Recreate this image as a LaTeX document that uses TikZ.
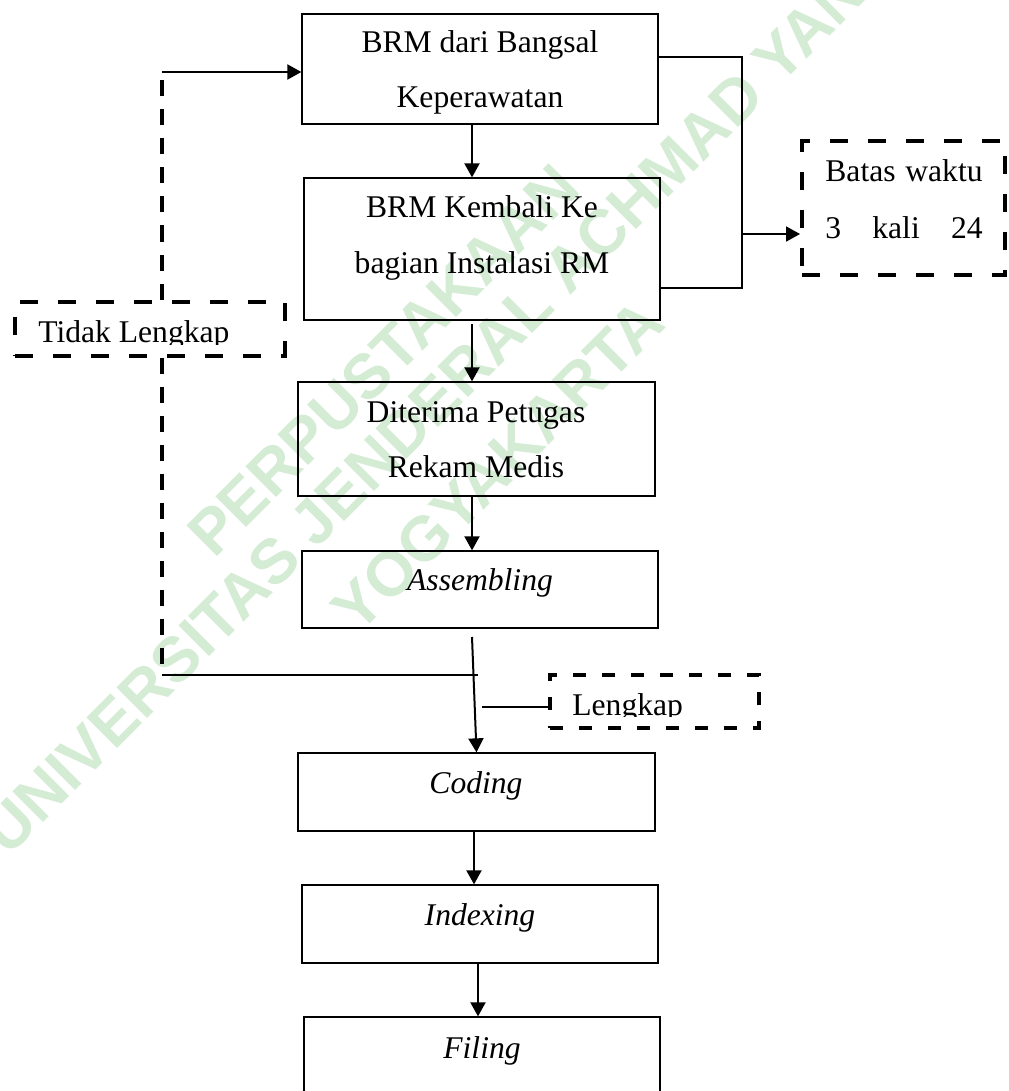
\documentclass[tikz,border=0pt]{standalone}
\usepackage{fontspec}
\setmainfont{Liberation Serif}
\newfontfamily\wmfont{Liberation Sans}
\usetikzlibrary{arrows.meta,fit}
\definecolor{wmgreen}{RGB}{212,235,212}
\tikzset{
  boxnode/.style={draw, line width=0.65pt, inner sep=0pt, rectangle},
  dbox/.style={draw, line width=2pt, dash pattern=on 9pt off 10pt, inner sep=0pt, rectangle},
  lbox/.style={draw, line width=1.6pt, dash pattern=on 6.5pt off 8pt, inner sep=0pt, rectangle},
  txt/.style={inner sep=0pt, anchor=base, font=\fontsize{15.8}{19}\selectfont},
  arr/.style={line width=1pt, -{Triangle[length=7pt,width=7.5pt]}},
  thinln/.style={line width=0.65pt},
  dline/.style={line width=1.75pt, dash pattern=on 8pt off 6.5pt},
  wm/.style={inner sep=0pt, anchor=base west, rotate=45, text=wmgreen, font=\wmfont\bfseries\fontsize{31.5}{31.5}\selectfont}
}
\begin{document}
\begin{tikzpicture}[x=0.5pt,y=-0.5pt]
\useasboundingbox (0,0) rectangle (1008,1091);
\clip (0,0) rectangle (1008,1091);
% watermark
\node[wm] (wm1) at (214,560) {PERPUSTAKAAN};
\node[wm] (wm2) at (8,858) {UNIVERSITAS JENDERAL ACHMAD YANI};
\node[wm] (wm3) at (358,636) {YOGYAKARTA};

% process boxes
\node[boxnode, fit={(302,14) (658,124)}] (b1) {};
\node[boxnode, fit={(304,178) (660,320)}] (b2) {};
\node[boxnode, fit={(298,382) (655,496)}] (b3) {};
\node[boxnode, fit={(302,551) (658,628)}] (b4) {};
\node[boxnode, fit={(298,753) (655,831)}] (cd) {};
\node[boxnode, fit={(302,885) (658,963)}] (ix) {};
\node[boxnode, fit={(304,1017) (660,1110)}] (fl) {};

% dashed boxes
\node[dbox, fit={(15,301.5) (284.5,355.5)}] (tl) {};
\node[dbox, fit={(802,141.5) (1005,275)}] (bw) {};
\node[lbox, fit={(550,675) (759,728)}] (lk) {};

% texts
\node[txt] (t1a) at (480,53) {BRM dari Bangsal};
\node[txt] (t1b) at (480,108) {Keperawatan};
\node[txt] (t2a) at (482,218) {BRM Kembali Ke};
\node[txt] (t2b) at (482,273) {bagian Instalasi RM};
\node[txt] (t3a) at (476,422) {Diterima Petugas};
\node[txt] (t3b) at (476,477) {Rekam Medis};
\node[txt] (t4) at (480,590) {\itshape Assembling};
\node[txt] (t5) at (476,793) {\itshape Coding};
\node[txt] (t6) at (480,925) {\itshape Indexing};
\node[txt] (t7) at (482,1058) {\itshape Filing};

\node[txt, anchor=base west] (bw1) at (825,182) {Batas};
\node[txt, anchor=base east] (bw2) at (983,182) {waktu};
\node[txt, anchor=base west] (bw3) at (825,238) {3};
\node[txt, anchor=base west] (bw4) at (872,238) {kali};
\node[txt, anchor=base east] (bw5) at (983,238) {24};

\begin{scope}
\clip (20,305) rectangle (280,344);
\node[txt, anchor=base west] (tlt) at (38,342) {Tidak Lengkap};
\end{scope}
\begin{scope}
\clip (555,680) rectangle (755,716.5);
\node[txt, anchor=base west] (lkt) at (572,715) {Lengkap};
\end{scope}

% coordinates
\coordinate (ax) at (472,0);
\coordinate (ax2) at (474,0);
\coordinate (ax3) at (478,0);
\coordinate (br1) at (742,57);
\coordinate (br2) at (742,288);
\coordinate (br3) at (742,234);
\coordinate (l1) at (162,72);
\coordinate (l2) at (162,675);
\coordinate (l3) at (478,675);
\coordinate (as) at (472,637);
\coordinate (lg) at (482,707);

% main flow
\draw[arr] (b1.south -| ax) -- (b2.north -| ax);
\draw[arr] (b2.south -| ax) ++(0,3) -- (b3.north -| ax);
\draw[arr] (b3.south -| ax) -- (b4.north -| ax);
\draw[arr] (as) -- (cd.north);
\draw[arr] (cd.south -| ax2) -- (ix.north -| ax2);
\draw[arr] (ix.south -| ax3) -- (fl.north -| ax3);

% time-limit bracket
\draw[thinln] (b1.east |- br1) -- (br1) -- (br2) -- (b2.east |- br2);
\draw[arr] (br3) -- (bw.west |- br3);

% incomplete loop
\draw[dline] (tl.north -| l1) -- (l1);
\draw[arr] (l1) -- (b1.west |- l1);
\draw[dline] (tl.south -| l1) -- (l2);
\draw[thinln] (l2) -- (l3);

% complete label
\draw[thinln] (lg) -- (lk.west |- lg);
\end{tikzpicture}
\end{document}
